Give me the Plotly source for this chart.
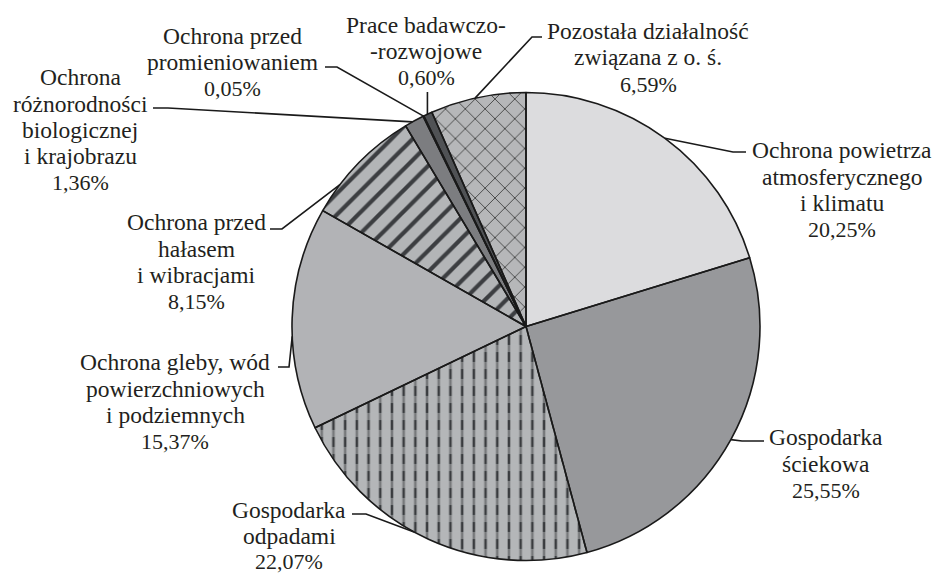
import math
import plotly.graph_objects as go

# ---- data ----
categories = [
    "Ochrona powietrza atmosferycznego i klimatu",
    "Gospodarka ściekowa",
    "Gospodarka odpadami",
    "Ochrona gleby, wód powierzchniowych i podziemnych",
    "Ochrona przed hałasem i wibracjami",
    "Ochrona różnorodności biologicznej i krajobrazu",
    "Ochrona przed promieniowaniem",
    "Prace badawczo-rozwojowe",
    "Pozostała działalność związana z o. ś.",
]
shares = [20.25, 25.55, 22.07, 15.37, 8.15, 1.36, 0.05, 0.60, 6.59]
label_lines = [
    ["Ochrona powietrza", "atmosferycznego", "i klimatu"],
    ["Gospodarka", "ściekowa"],
    ["Gospodarka", "odpadami"],
    ["Ochrona gleby, wód", "powierzchniowych", "i podziemnych"],
    ["Ochrona przed", "hałasem", "i wibracjami"],
    ["Ochrona", "różnorodności", "biologicznej", "i krajobrazu"],
    ["Ochrona przed", "promieniowaniem"],
    ["Prace badawczo-", "-rozwojowe"],
    ["Pozostała działalność", "związana z o. ś."],
]

# ---- styling ----
W, H = 940, 576
CX, CY, R = 526, 326.5, 234
T = "rgba(0,0,0,0)"
fills = ["#dcdcde", "#97989b", "#b4b6b8", "#b2b3b6", "#b3b5b7",
         "#7c7d80", "#3d3f42", "#505255", "#b6b7b9"]
pat_shape = ["", "", "|", "", "/", "", "", "", "x"]
pat_fg = ["#000", "#000", "#3a3c3f", "#000", "#3c3e41", "#000", "#000", "#000", "#111111"]
pat_size = [10, 10, 11.7, 10, 15, 10, 10, 10, 14]
pat_sol = [0.3, 0.3, 0.22, 0.3, 0.28, 0.3, 0.3, 0.3, 0.09]
# overlay that breaks the vertical lines into dashes
ov_shape = ["", "", "-", "", "", "", "", "", ""]
ov_fg = [T, T, "#b4b6b8", T, T, T, T, T, T]

# label layout (pixels): anchor fraction within slice, leader path points, text center x, first line y
anchor_frac = [0.5, 0.5, 0.55, 0.42, 0.26, 0.4, 0.5, 0.45, 0.47]
leader_pts = [
    [(733, 152), (746, 152)],
    [(742, 441), (764, 441)],
    [(366, 514), (352, 514)],
    [(289, 367), (278, 367)],
    [(282, 229), (270, 229)],
    [(168, 108), (153, 108)],
    [(337, 67), (325, 67)],
    [None],
    [(532, 37), (542, 37)],
]
text_cx = [842, 826, 289, 175, 196, 80, 232, 426, 648]
text_y0 = [150, 437, 510, 362, 222, 77, 36, 25, 31]
LINE = [26.5, 26.5, 25.5, 26.5, 26.5, 26.5, 26.5, 26.5, 26.5]
FONT = dict(family="Liberation Serif", size=23.5, color="#231f20")
FONT_PCT = dict(family="Liberation Serif", size=22, color="#231f20")


def px(x):
    return x / W


def py(y):
    return 1 - y / H


domain = dict(x=[px(CX - R), px(CX + R)], y=[py(CY + R), py(CY - R)])

fig = go.Figure()
fig.add_trace(go.Pie(
    labels=categories, values=shares, sort=False, direction="clockwise", rotation=0,
    textinfo="none", hoverinfo="skip", domain=domain, showlegend=False,
    marker=dict(colors=fills, line=dict(width=0),
                pattern=dict(shape=pat_shape, fgcolor=pat_fg, size=pat_size,
                             solidity=pat_sol, fillmode="replace", bgcolor=fills)),
))
fig.add_trace(go.Pie(
    labels=categories, values=shares, sort=False, direction="clockwise", rotation=0,
    textinfo="none", hoverinfo="skip", domain=domain, showlegend=False,
    marker=dict(colors=[T] * len(shares), line=dict(width=1.6, color="#1a1a1a"),
                pattern=dict(shape=ov_shape, fgcolor=ov_fg, bgcolor=[T] * len(shares),
                             size=17, solidity=0.42, fillmode="overlay")),
))

total = sum(shares)
cum = 0
shapes = []
annotations = []
for i, v in enumerate(shares):
    ang = math.radians((cum + anchor_frac[i] * v) / total * 360)
    cum += v
    ex, ey = CX + R * math.sin(ang), CY - R * math.cos(ang)
    pts = [(ex, ey)]
    for p in leader_pts[i]:
        if p is None:
            pts.append((ex, 92))
        else:
            pts.append(p)
    path = "M " + " L ".join(f"{px(a):.5f},{py(b):.5f}" for a, b in pts)
    shapes.append(dict(type="path", path=path, xref="paper", yref="paper",
                       line=dict(color="#1a1a1a", width=1.6)))
    lines = label_lines[i] + [f"{v:.2f}%".replace(".", ",")]
    for k, t in enumerate(lines):
        annotations.append(dict(text=t, x=px(text_cx[i]), y=py(text_y0[i] + k * LINE[i]),
                                xref="paper", yref="paper", xanchor="center", yanchor="middle",
                                showarrow=False,
                                font=FONT_PCT if k == len(lines) - 1 else FONT))

fig.update_layout(width=W, height=H, margin=dict(l=0, r=0, t=0, b=0),
                  paper_bgcolor="white", plot_bgcolor="white",
                  shapes=shapes, annotations=annotations)
fig.write_html("out.html", config={"displayModeBar": False},
               post_script="document.body.style.margin='0';document.body.style.overflow='hidden';")
